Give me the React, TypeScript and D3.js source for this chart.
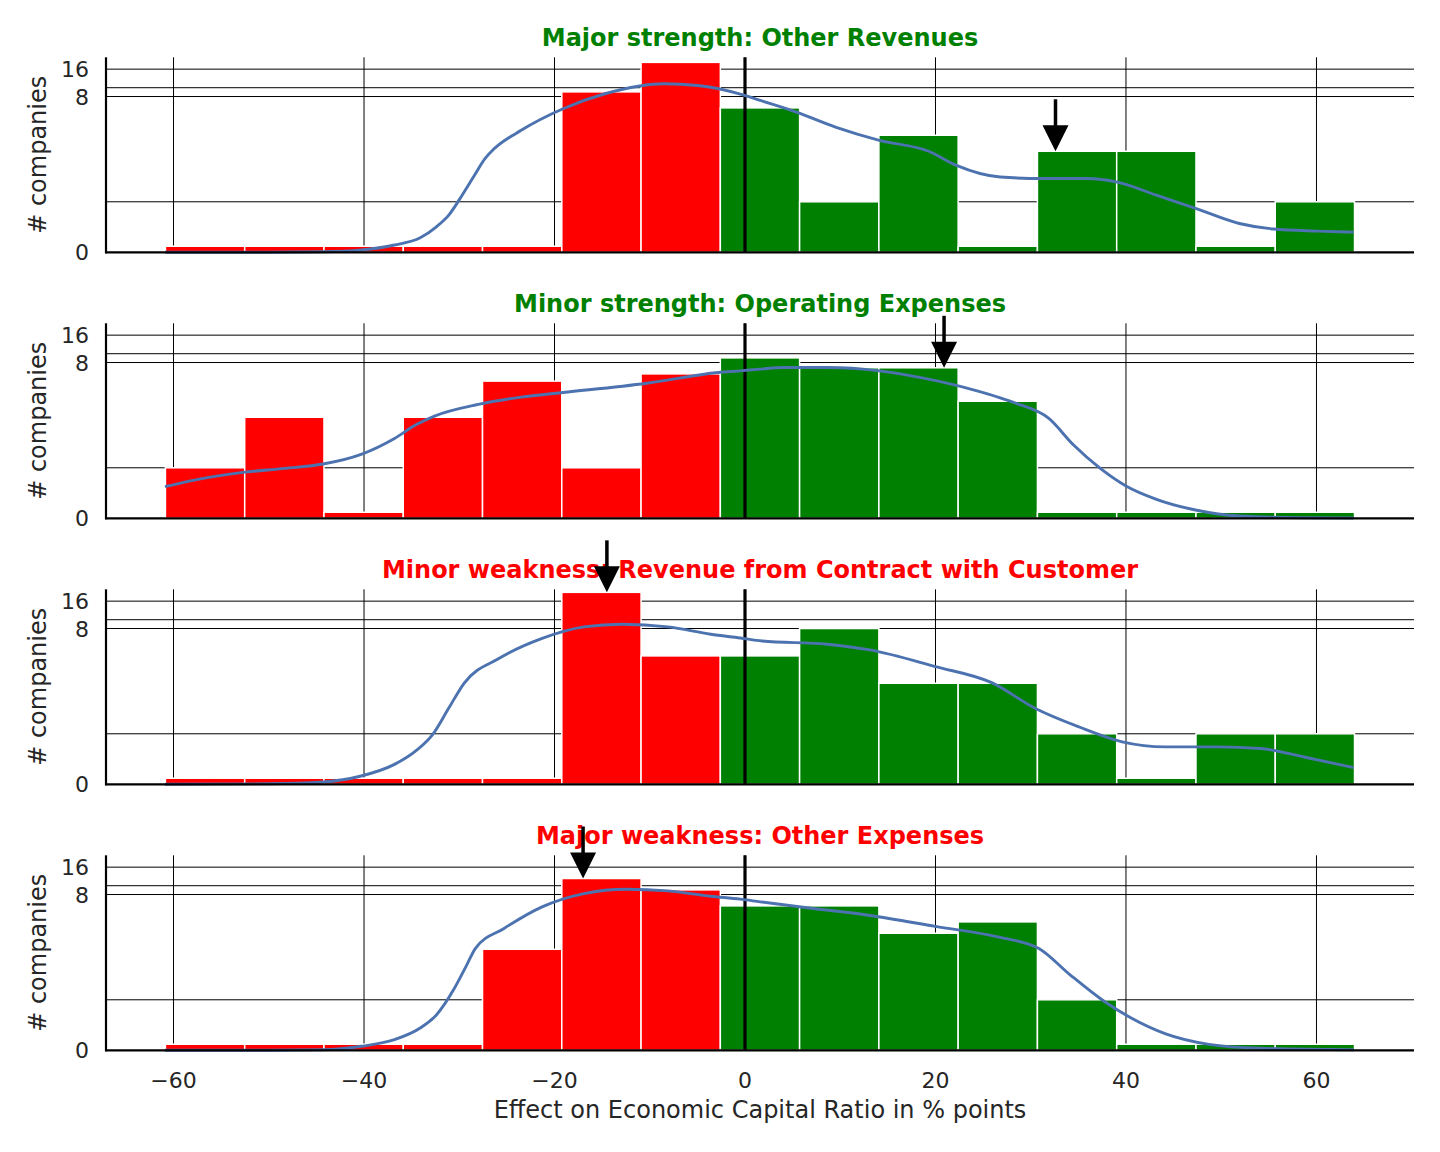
import React from 'react';
import * as d3 from 'd3';

// panel titles and their colours
const TITLES = [
  'Major strength: Other Revenues',
  'Minor strength: Operating Expenses',
  'Minor weakness: Revenue from Contract with Customer',
  'Major weakness: Other Expenses',
];
const TITLE_COLORS = ['#008000', '#008000', '#ff0000', '#ff0000'];

// histogram bins (shared by all panels)
const BIN_START = -60.85;
const BIN_WIDTH = 8.323;
const RED_BINS = 7; // first bins are drawn red, the rest green

// counts per bin
const COUNTS_1 = [0, 0, 0, 0, 0, 9, 19, 6, 1, 3, 0, 2, 2, 0, 1];
const COUNTS_2 = [1, 2, 0, 2, 5, 1, 6, 9, 7, 7, 3, 0, 0, 0, 0];
const COUNTS_3 = [0, 0, 0, 0, 0, 20, 4, 4, 8, 2, 2, 1, 0, 1, 1];
const COUNTS_4 = [0, 0, 0, 0, 2, 12, 9, 6, 6, 3, 4, 1, 0, 0, 0];

// kde curves (x in % points, y in companies)
const KDE_X_1 = [-60.9, -50.1, -44.3, -40.3, -36.8, -34.1, -32.4, -31.1, -29.7, -28.4, -27.3, -26.4, -23.5, -19.1, -14.7, -11.2, -8.5, -5.0, -0.3, 1.6, 5.4, 9.5, 14.1, 19.3, 22.2, 26.8, 31.4, 35.9, 39.1, 43.2, 47.3, 51.9, 55.5, 60.1, 63.9];
const KDE_Y_1 = [0.0, 0.002, 0.01, 0.045, 0.144, 0.288, 0.505, 0.736, 1.131, 1.526, 1.855, 2.1, 3.4, 5.87, 8.58, 10.39, 11.04, 10.58, 8.4, 7.24, 5.39, 3.69, 2.64, 2.0, 1.72, 1.49, 1.46, 1.46, 1.39, 1.13, 0.87, 0.57, 0.46, 0.42, 0.4];

const KDE_X_2 = [-60.9, -56.3, -52.7, -48.3, -44.3, -40.3, -36.8, -34.6, -32.6, -28.0, -23.5, -19.1, -10.3, -2.8, -0.5, 1.6, 4.0, 8.6, 14.1, 18.6, 23.2, 28.2, 31.9, 34.5, 37.3, 40.0, 43.2, 47.3, 51.9, 58.7, 63.9];
const KDE_Y_2 = [0.626, 0.81, 0.909, 0.988, 1.074, 1.265, 1.58, 1.845, 2.06, 2.77, 3.33, 3.74, 4.74, 6.21, 6.48, 6.76, 7.05, 7.05, 6.48, 5.43, 4.22, 2.91, 1.977, 1.45, 0.988, 0.64, 0.376, 0.165, 0.046, 0.01, 0.005];

const KDE_X_3 = [-60.9, -50.1, -44.3, -40.3, -36.8, -34.6, -32.8, -31.1, -29.5, -25.8, -21.3, -16.9, -12.9, -8.1, -3.6, -0.5, 1.8, 8.6, 13.1, 20.0, 25.9, 30.5, 35.0, 39.6, 44.1, 49.6, 54.1, 58.7, 63.9];
const KDE_Y_3 = [0.0, 0.01, 0.046, 0.164, 0.394, 0.656, 0.984, 1.509, 2.0, 3.76, 6.22, 8.33, 8.91, 8.33, 6.93, 6.3, 5.84, 5.38, 4.66, 3.05, 2.03, 1.5, 1.14, 0.84, 0.74, 0.74, 0.71, 0.54, 0.33];

const KDE_X_4 = [-60.9, -50.1, -44.3, -40.3, -36.8, -34.1, -32.4, -30.6, -29.3, -28.3, -25.3, -21.3, -16.9, -12.5, -8.1, -3.6, -0.5, 1.6, 6.3, 13.1, 20.0, 26.8, 30.9, 34.1, 37.7, 40.5, 44.1, 48.7, 54.1, 63.9];
const KDE_Y_4 = [0.0, 0.0, 0.01, 0.079, 0.21, 0.44, 0.7, 1.197, 1.657, 2.05, 3.39, 5.86, 8.2, 9.16, 8.77, 7.66, 7.11, 6.65, 5.76, 4.71, 3.57, 2.7, 2.03, 1.5, 0.97, 0.644, 0.33, 0.118, 0.04, 0.01];

// arrow position per panel
const ARROW_X = [32.6, 20.9, -14.5, -17.0];

const X_TICKS = [-60, -40, -20, 0, 20, 40, 60];
const Y_TICKS = [0, 8, 16];
const Y_GRID = [1, 8, 10, 16];
const X_DOMAIN = [-67.09, 70.24];
const Y_MAX = 21.6;

const PANELS = [
  { counts: COUNTS_1, kx: KDE_X_1, ky: KDE_Y_1 },
  { counts: COUNTS_2, kx: KDE_X_2, ky: KDE_Y_2 },
  { counts: COUNTS_3, kx: KDE_X_3, ky: KDE_Y_3 },
  { counts: COUNTS_4, kx: KDE_X_4, ky: KDE_Y_4 },
];

// matplotlib style symlog (base 10, linthresh 2, linscale 1)
const LINTHRESH = 2;
const LINSCALE_ADJ = 1 / (1 - 1 / 10);
const symlog = (v: number) => {
  const a = Math.abs(v);
  if (a <= LINTHRESH) return v * LINSCALE_ADJ;
  return Math.sign(v) * LINTHRESH * (LINSCALE_ADJ + Math.log10(a / LINTHRESH));
};

const W = 1440;
const H = 1152;
const LEFT = 106;
const RIGHT = 1414;
const TOP0 = 57.3;
const PANEL_H = 195;
const STEP = 266;
const MIN_BAR = 0.12; // empty bins still get a sliver
const FONT = 'DejaVu Sans, sans-serif';
const TEXT = '#262626';

const x = d3.scaleLinear().domain(X_DOMAIN).range([LEFT, RIGHT]);

const Panel: React.FC<{ i: number }> = ({ i }) => {
  const p = PANELS[i];
  const top = TOP0 + STEP * i;
  const bottom = top + PANEL_H;
  const yLin = d3.scaleLinear().domain([0, symlog(Y_MAX)]).range([bottom, top]);
  const y = (v: number) => yLin(symlog(v));

  const line = d3.line<number>()
    .x((_, j) => x(p.kx[j]))
    .y(d => y(d))
    .curve(d3.curveMonotoneX);

  const bin = Math.floor((ARROW_X[i] - BIN_START) / BIN_WIDTH);
  const ax = x(ARROW_X[i]);
  const tip = y(p.counts[bin]);
  const isLast = i === PANELS.length - 1;

  return (
    <g>
      {X_TICKS.map(t => (
        <line key={'vx' + t} x1={x(t)} x2={x(t)} y1={top} y2={bottom} stroke="#000" strokeWidth={1} />
      ))}
      {Y_GRID.map(t => (
        <line key={'hy' + t} x1={LEFT} x2={RIGHT} y1={y(t)} y2={y(t)} stroke="#000" strokeWidth={1} />
      ))}
      {p.counts.map((c, j) => {
        const x0 = x(BIN_START + j * BIN_WIDTH);
        const x1 = x(BIN_START + (j + 1) * BIN_WIDTH);
        const yt = y(Math.max(c, MIN_BAR));
        return (
          <rect key={'b' + j} x={x0} y={yt} width={x1 - x0} height={bottom - yt}
            fill={j < RED_BINS ? '#ff0000' : '#008000'} stroke="#fff" strokeWidth={1.5} />
        );
      })}
      <line x1={x(0)} x2={x(0)} y1={top} y2={bottom} stroke="#000" strokeWidth={3.2} />
      <path d={line(p.ky) || ''} fill="none" stroke="#4c72b0" strokeWidth={2.9} />
      <line x1={LEFT} x2={LEFT} y1={top} y2={bottom + 1} stroke="#000" strokeWidth={2.2} />
      <line x1={LEFT - 1} x2={RIGHT} y1={bottom} y2={bottom} stroke="#000" strokeWidth={2.2} />
      {Y_TICKS.map(t => (
        <text key={'yt' + t} x={89} y={y(t) + 8} textAnchor="end" fontFamily={FONT} fontSize={22} fill={TEXT}>{t}</text>
      ))}
      <text transform={`translate(45.9,${(top + bottom) / 2}) rotate(-90)`} textAnchor="middle"
        fontFamily={FONT} fontSize={24} fill={TEXT}># companies</text>
      <text x={(LEFT + RIGHT) / 2} y={top - 11} textAnchor="middle" fontFamily={FONT} fontSize={24}
        fontWeight="bold" fill={TITLE_COLORS[i]}>{TITLES[i]}</text>
      {isLast && X_TICKS.map(t => (
        <text key={'xt' + t} x={x(t)} y={bottom + 38} textAnchor="middle" fontFamily={FONT} fontSize={22} fill={TEXT}>
          {t < 0 ? '\u2212' + Math.abs(t) : t}
        </text>
      ))}
      <line x1={ax} x2={ax} y1={tip - 52} y2={tip - 24} stroke="#000" strokeWidth={3.5} />
      <path d={`M${ax - 13},${tip - 26}L${ax + 13},${tip - 26}L${ax},${tip}Z`} fill="#000" />
    </g>
  );
};

const App: React.FC = () => (
  <svg width={W} height={H} style={{ position: 'absolute', left: 0, top: 0, background: '#fff' }}>
    <rect width={W} height={H} fill="#fff" />
    {PANELS.map((_, i) => <Panel key={i} i={i} />)}
    <text x={(LEFT + RIGHT) / 2} y={1117.5} textAnchor="middle" fontFamily={FONT} fontSize={24} fill={TEXT}>
      Effect on Economic Capital Ratio in % points
    </text>
  </svg>
);

export default App;
